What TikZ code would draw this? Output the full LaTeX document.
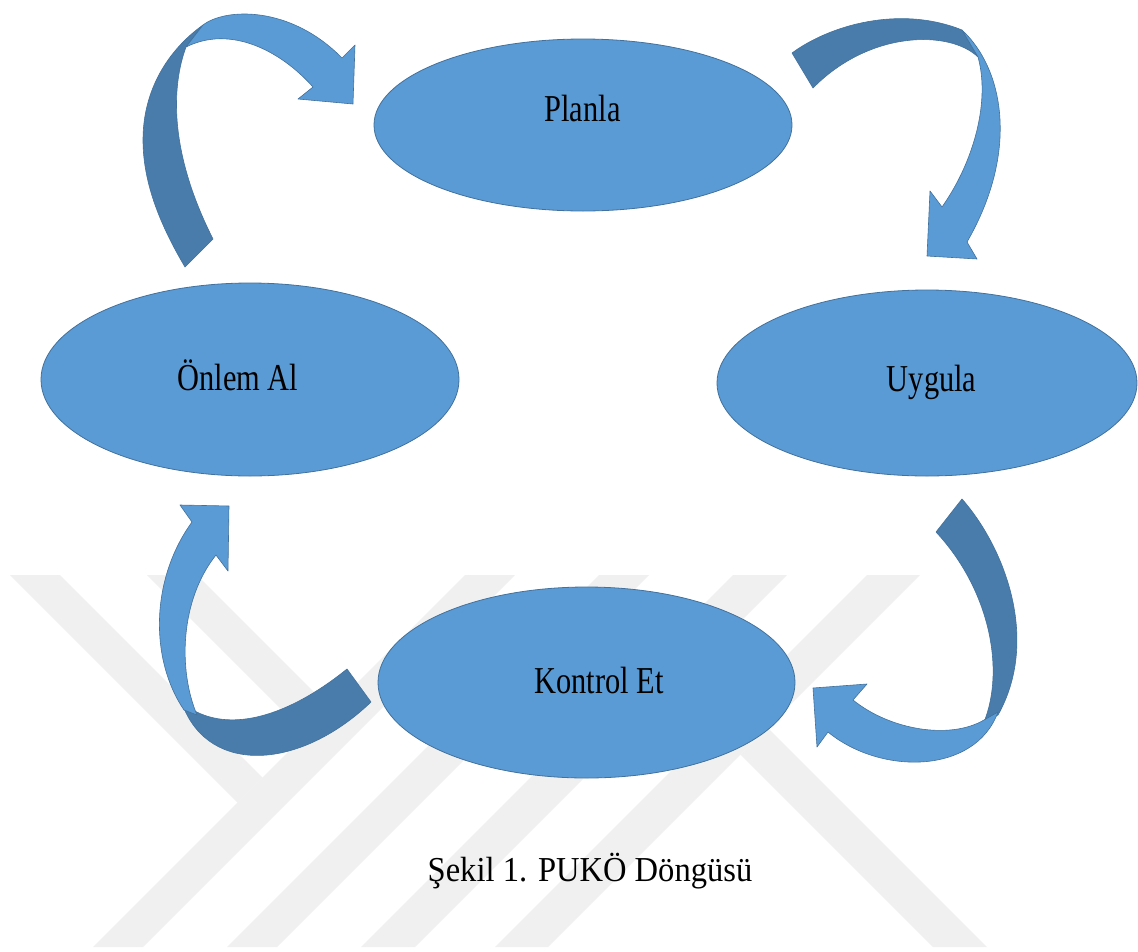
\documentclass[tikz,border=0pt]{standalone}
\usepackage{fontspec}
\setmainfont{Liberation Serif}
\newfontfamily\narrowfont[FakeStretch=0.8]{Liberation Serif}
\newfontfamily\capfont[FakeStretch=0.93]{Liberation Serif}
\usetikzlibrary{shapes.geometric}
\definecolor{ellfill}{HTML}{5B9BD5}
\definecolor{ellline}{HTML}{41719C}
\definecolor{backfill}{HTML}{497CAA}
\definecolor{wm}{HTML}{F0F0F0}
\begin{document}
\begin{tikzpicture}[x=1pt,y=-1pt,
  phase/.style={ellipse, draw=ellline, fill=ellfill, line width=0.8pt, inner sep=0pt},
  lbl/.style={font=\narrowfont\fontsize{38}{40}\selectfont, anchor=base, inner sep=0pt},
  caption/.style={font=\capfont\fontsize{35}{37}\selectfont, anchor=base, inner sep=0pt},
  front/.style={fill=ellfill, draw=ellline, line width=0.6pt, line join=round},
  back/.style={fill=backfill, draw=ellline, line width=0.6pt, line join=round},
  stripe/.style={fill=wm}]
\useasboundingbox (0,0) rectangle (1138,951);
\fill[white] (0,0) rectangle (1138,951);
% watermark
\fill[stripe] (465,575) -- (515,575) -- (143,947) -- (93,947) -- cycle;
\fill[stripe] (599,575) -- (649,575) -- (277,947) -- (227,947) -- cycle;
\fill[stripe] (733,575) -- (787,575) -- (415,947) -- (361,947) -- cycle;
\fill[stripe] (867,575) -- (920,575) -- (548,947) -- (495,947) -- cycle;
\fill[stripe] (10,575) -- (60,575) -- (262.5,777.5) -- (237.5,802.5) -- cycle;
\fill[stripe] (147,575) -- (197,575) -- (331,709) -- (306,734) -- cycle;
\fill[stripe] (740.5,754.5) -- (767.5,727.5) -- (987,947) -- (933,947) -- cycle;
% phases
\node[phase, minimum width=418pt, minimum height=172pt] (planla) at (583,125) {};
\node[phase, minimum width=420pt, minimum height=186pt] (uygula) at (927,383) {};
\node[phase, minimum width=418pt, minimum height=193pt] (onlem) at (250,379.5) {};
\node[phase, minimum width=417pt, minimum height=191pt] (kontrol) at (586.5,682.5) {};
\node[lbl] (tplanla) at (582.5,121.7) {Planla};
\node[lbl] (tuygula) at (931.7,391.7) {Uygula};
\node[lbl] (tonlem) at (238,390) {Önlem Al};
\node[lbl] (tkontrol) at (599,693) {Kontrol Et};
\node[caption] (cap) at (590,881.7) {Şekil 1. PUKÖ Döngüsü};
% arrow: Onlem Al -> Planla
\filldraw[back] (185,267) .. controls (162,228) and (143,185) .. (143,140)
  .. controls (143,90) and (168,50) .. (203,25) -- (186,47)
  .. controls (172,85) and (168,150) .. (213,239) -- cycle;
\filldraw[front] (203,25) .. controls (225,8) and (290,5) .. (342,58)
  -- (355,45) -- (353,104) -- (298,99) -- (313,87)
  .. controls (280,50) and (230,25) .. (186,47) -- cycle;
% arrow: Planla -> Uygula
\filldraw[back] (792,53) .. controls (830,25) and (900,5) .. (962,30) -- (978,57)
  .. controls (950,30) and (870,30) .. (813,88) -- cycle;
\filldraw[front] (962,30) .. controls (1003,68) and (1020,150) .. (967,242)
  -- (977,259) -- (927,256) -- (930,191) -- (942,207)
  .. controls (975,160) and (990,100) .. (978,57) -- cycle;
% arrow: Uygula -> Kontrol Et
\filldraw[back] (962,499) .. controls (1005,548) and (1040,640) .. (998,715) -- (984,722)
  .. controls (1005,670) and (990,590) .. (936,532) -- cycle;
\filldraw[front] (998,712) .. controls (975,775) and (880,775) .. (828,732)
  -- (817,747) -- (813,688) -- (867,684) -- (853,700)
  .. controls (890,730) and (950,740) .. (984,720) -- cycle;
% arrow: Kontrol Et -> Onlem Al
\filldraw[back] (347,669) .. controls (290,715) and (230,735) .. (188,707) -- (183,706)
  .. controls (210,775) and (300,770) .. (371,702) -- cycle;
\filldraw[front] (184,710) .. controls (150,660) and (150,580) .. (192,522)
  -- (180,505) -- (229,506) -- (228,571) -- (216,555)
  .. controls (180,600) and (178,670) .. (197,715) -- cycle;
\end{tikzpicture}
\end{document}
